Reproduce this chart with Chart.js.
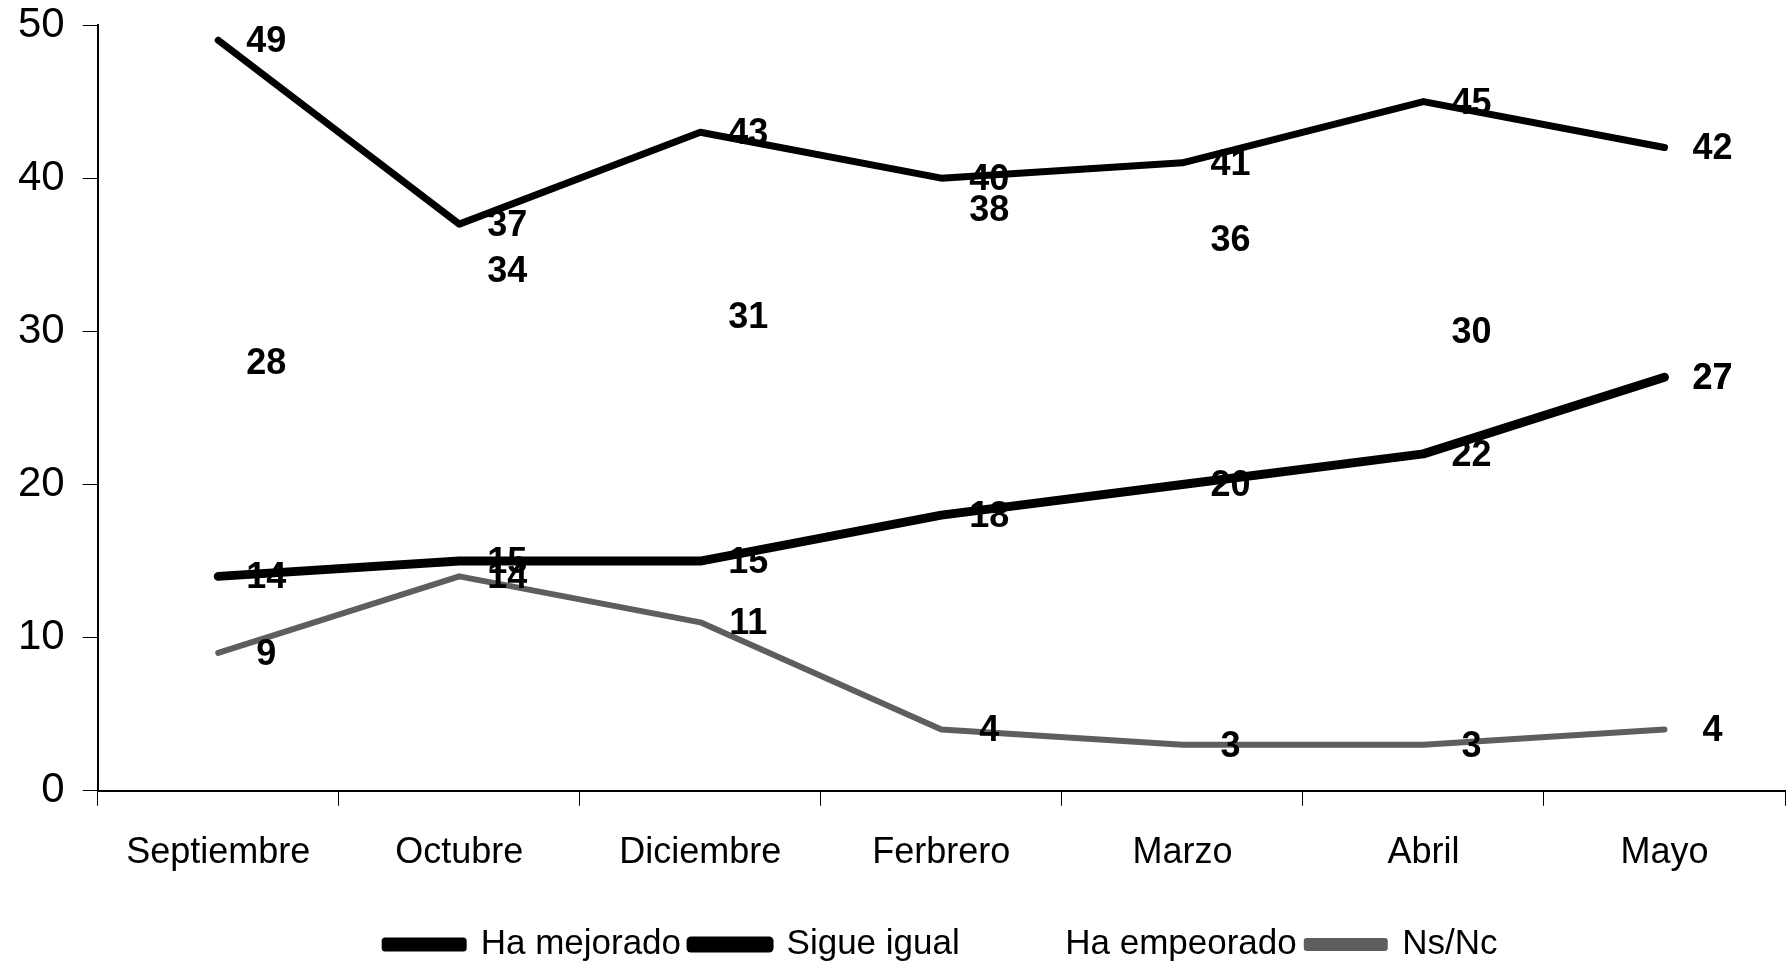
<!DOCTYPE html>
<html>
<head>
<meta charset="utf-8">
<script src="https://cdn.jsdelivr.net/npm/chart.js@4/dist/chart.umd.min.js"></script>
<style>
    body { margin: 0; background: #fff; }
    #wrap { width: 1791px; height: 972px; }
</style>
</head>
<body>
<div id="wrap"><canvas id="lineChart"></canvas></div>
<script>
// Values
const months = ['Septiembre', 'Octubre', 'Diciembre', 'Ferbrero', 'Marzo', 'Abril', 'Mayo'];
const haMejorado = [49, 37, 43, 40, 41, 45, 42];
const sigueIgual = [14, 15, 15, 18, 20, 22, 27];
const haEmpeorado = [28, 34, 31, 38, 36, 30, 27];
const nsNc = [9, 14, 11, 4, 3, 3, 4];
const yTicks = [0, 10, 20, 30, 40, 50];

// Draw the value next to each point (bold numbers)
const valueLabels = {
    id: 'valueLabels',
    afterDatasetsDraw(chart) {
        const ctx = chart.ctx;
        ctx.save();
        ctx.font = 'bold 36px "Liberation Sans", Arial, sans-serif';
        ctx.fillStyle = '#000';
        ctx.textAlign = 'center';
        ctx.textBaseline = 'middle';
        chart.data.datasets.forEach(function (ds, i) {
            var meta = chart.getDatasetMeta(i);
            meta.data.forEach(function (pt, j) {
                ctx.fillText(String(ds.data[j]), pt.x + 48, pt.y + 2);
            });
        });
        ctx.restore();
    }
};

var ctx = document.getElementById('lineChart').getContext('2d');
var lineChart = new Chart(ctx, {
    type: 'line',
    data: {
        labels: months,
        datasets: [{
            label: 'Ha mejorado',
            data: haMejorado,
            borderColor: '#000',
            backgroundColor: '#000',
            borderWidth: 7
        }, {
            label: 'Sigue igual',
            data: sigueIgual,
            borderColor: '#000',
            backgroundColor: '#000',
            borderWidth: 9
        }, {
            label: 'Ha empeorado',
            data: haEmpeorado,
            borderColor: 'rgba(0,0,0,0)',
            backgroundColor: 'rgba(0,0,0,0)',
            borderWidth: 0,
            showLine: false
        }, {
            label: 'Ns/Nc',
            data: nsNc,
            borderColor: '#5e5e5e',
            backgroundColor: '#5e5e5e',
            borderWidth: 6
        }]
    },
    options: {
        responsive: true,
        maintainAspectRatio: false,
        animation: false,
        elements: {
            point: { radius: 0, hoverRadius: 0 },
            line: { tension: 0, borderCapStyle: 'round', borderJoinStyle: 'round' }
        },
        layout: {
            padding: { left: 0, right: 6, top: 4, bottom: 0 }
        },
        scales: {
            x: {
                offset: true,
                afterFit: function (scale) {
                    scale.height += 16;
                },
                grid: {
                    offset: true,
                    drawOnChartArea: false,
                    tickLength: 15,
                    color: '#000'
                },
                border: { color: '#000', width: 2 },
                ticks: {
                    color: '#000',
                    padding: 26,
                    font: { family: '"Liberation Sans", Arial, sans-serif', size: 36 }
                }
            },
            y: {
                min: 0,
                max: 50,
                afterBuildTicks: function (axis) {
                    axis.ticks = yTicks.map(function (v) { return { value: v }; });
                },
                afterFit: function (scale) {
                    scale.paddingTop = 25;
                },
                grid: {
                    drawOnChartArea: false,
                    tickLength: 15,
                    color: '#000'
                },
                border: { color: '#000', width: 2 },
                ticks: {
                    color: '#000',
                    padding: 18,
                    font: { family: '"Liberation Sans", Arial, sans-serif', size: 42 }
                }
            }
        },
        plugins: {
            legend: {
                position: 'bottom',
                fullSize: false,
                labels: {
                    color: '#000',
                    boxWidth: 78,
                    boxHeight: 7,
                    padding: 10,
                    font: { family: '"Liberation Sans", Arial, sans-serif', size: 35 }
                }
            },
            tooltip: { enabled: false }
        }
    },
    plugins: [valueLabels]
});
</script>
</body>
</html>
